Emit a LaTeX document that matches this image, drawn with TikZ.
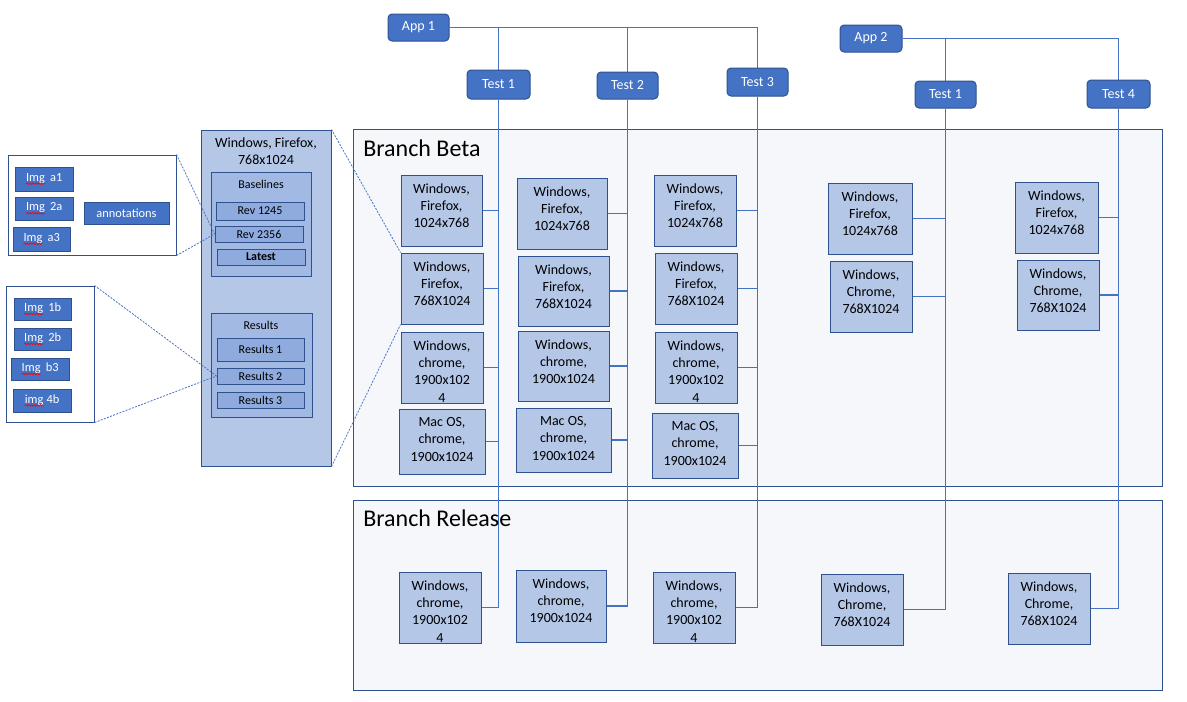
\documentclass[tikz,border=0pt]{standalone}
\usepackage{fontspec}
\setmainfont{Carlito}
\usetikzlibrary{calc,decorations.pathmorphing}
\definecolor{dblue}{HTML}{4472C4}
\definecolor{bord}{HTML}{2F528F}
\definecolor{lblue}{HTML}{B4C7E7}
\definecolor{mblue}{HTML}{A2B9E3}
\definecolor{rblue}{HTML}{8FAADC}
\definecolor{bgfill}{HTML}{F6F7FB}
\definecolor{linec}{HTML}{4472C4}
\pgfdeclarelayer{backlayer}
\pgfdeclarelayer{connlayer}
\pgfsetlayers{backlayer,connlayer,main}
\newcommand\rnode[7]{\node[#1, minimum width={(#5-#3)*0.75pt}, minimum height={(#6-#4)*0.75pt}] (#2) at ({(#3+#5)/2},{(#4+#6)/2}) {#7};}
\newcommand\tbox[6]{\rnode{lbox}{#1}{#2}{#3}{#4}{#5}{}\node[btxt, anchor=north] (#1t) at ([yshift=-6.5pt]#1.north) {#6};}
\newcommand\sqg[1]{\tikz[baseline=(sqw.base)]{\node[draw=none, fill=none, minimum width=0pt, minimum height=0pt, inner sep=0pt, outer sep=0pt, text=white] (sqw) {#1};\draw[red, line width=0.5pt, decorate, decoration={snake, amplitude=0.6pt, segment length=2.2pt}] ([yshift=-1.8pt]sqw.base west) -- ([yshift=-1.8pt]sqw.base east);}}
\tikzset{
  pill/.style={draw=bord, fill=dblue, rounded corners=3pt, text=white, font=\fontsize{10.5}{12}\selectfont, inner sep=0pt, line width=0.75pt},
  lbox/.style={draw=bord, fill=lblue, inner sep=0pt, line width=0.75pt},
  ibox/.style={draw=bord, fill=mblue, inner sep=0pt, line width=0.75pt},
  rbox/.style={draw=bord, fill=rblue, inner sep=0pt, line width=0.75pt, font=\fontsize{9}{10}\selectfont},
  wbox/.style={draw=bord, fill=white, inner sep=0pt, line width=0.75pt},
  imgbox/.style={draw=bord, fill=dblue, text=white, inner sep=0pt, line width=0.75pt, font=\fontsize{9.3}{10}\selectfont},
  btxt/.style={align=center, font=\fontsize{10.5}{13}\selectfont, inner sep=0pt},
  small/.style={font=\fontsize{9}{10}\selectfont, inner sep=0pt},
  branch/.style={draw=bord, fill=bgfill, inner sep=0pt, line width=0.75pt},
  btitle/.style={font=\fontsize{18}{21}\selectfont, inner sep=0pt, anchor=base west},
  conn/.style={draw=linec, line width=0.8pt},
  dashc/.style={draw=linec, line width=0.6pt, dash pattern=on 1.5pt off 1pt},
}
\begin{document}
\begin{tikzpicture}[x=0.75pt, y=-0.75pt]
\useasboundingbox (0,0) rectangle (1187,701);
% branch backgrounds
\begin{pgfonlayer}{backlayer}
\rnode{branch}{beta}{353}{129}{1162}{486}{}
\rnode{branch}{release}{353}{500}{1162}{690}{}
\end{pgfonlayer}
\node[btitle] (betat) at (363,156) {Branch Beta};
\node[btitle] (releaset) at (363,526) {Branch Release};
% apps and tests
\rnode{pill}{app1}{388}{14}{449}{41}{App 1}
\rnode{pill}{t11}{467}{70}{530}{99}{Test 1}
\rnode{pill}{t12}{597}{72}{658}{99}{Test 2}
\rnode{pill}{t13}{727}{68}{788}{96}{Test 3}
\rnode{pill}{app2}{840}{25}{902}{52}{App 2}
\rnode{pill}{t21}{915}{81}{976}{108}{Test 1}
\rnode{pill}{t24}{1087}{80}{1150}{108}{Test 4}
% beta boxes
\tbox{c1a}{401}{175}{482}{246}{Windows,\\Firefox,\\1024x768}
\tbox{c1b}{401}{253}{483}{324}{Windows,\\Firefox,\\768X1024}
\tbox{c1c}{401}{332}{483}{403}{Windows,\\chrome,\\1900x102\\4}
\tbox{c1d}{399}{409}{485}{474}{Mac OS,\\chrome,\\1900x1024}
\tbox{c2a}{517}{178}{607}{249}{Windows,\\Firefox,\\1024x768}
\tbox{c2b}{518}{256}{609}{326}{Windows,\\Firefox,\\768X1024}
\tbox{c2c}{518}{331}{609}{401}{Windows,\\chrome,\\1900x1024}
\tbox{c2d}{516}{408}{611}{472}{Mac OS,\\chrome,\\1900x1024}
\tbox{c3a}{654}{175}{736}{246}{Windows,\\Firefox,\\1024x768}
\tbox{c3b}{655}{253}{737}{324}{Windows,\\Firefox,\\768X1024}
\tbox{c3c}{655}{332}{737}{403}{Windows,\\chrome,\\1900x102\\4}
\tbox{c3d}{652}{413}{738}{478}{Mac OS,\\chrome,\\1900x1024}
\tbox{c4a}{828}{183}{912}{254}{Windows,\\Firefox,\\1024x768}
\tbox{c4b}{830}{261}{912}{332}{Windows,\\Chrome,\\768X1024}
\tbox{c5a}{1015}{182}{1098}{253}{Windows,\\Firefox,\\1024x768}
\tbox{c5b}{1017}{260}{1099}{330}{Windows,\\Chrome,\\768X1024}
% release boxes
\tbox{r1}{399}{572}{481}{643}{Windows,\\chrome,\\1900x102\\4}
\tbox{r2}{516}{570}{606}{642}{Windows,\\chrome,\\1900x1024}
\tbox{r3}{653}{572}{735}{643}{Windows,\\chrome,\\1900x102\\4}
\tbox{r4}{821}{574}{903}{645}{Windows,\\Chrome,\\768X1024}
\tbox{r5}{1008}{573}{1090}{644}{Windows,\\Chrome,\\768X1024}
% connectors
\begin{pgfonlayer}{connlayer}
\draw[conn] (app1.east) -| (t11.north);
\draw[conn] (app1.east) -| (t12.north);
\draw[conn] (app1.east) -| (t13.north);
\draw[conn] (app2.east) -| (t21.north);
\draw[conn] (app2.east) -| (t24.north);
\foreach \b in {c1a,c1b,c1c,c1d,r1} \draw[conn] (t11.south) |- (\b.east);
\foreach \b in {c2a,c2b,c2c,c2d,r2} \draw[conn] (t12.south) |- (\b.east);
\foreach \b in {c3a,c3b,c3c,c3d,r3} \draw[conn] (t13.south) |- (\b.east);
\foreach \b in {c4a,c4b,r4} \draw[conn] (t21.south) |- (\b.east);
\foreach \b in {c5a,c5b,r5} \draw[conn] (t24.south) |- (\b.east);
\end{pgfonlayer}
% left panel
\rnode{lbox}{panel}{201}{130}{331}{466}{}
\node[btxt, anchor=north] (panelt) at ([yshift=-6pt]panel.north) {Windows, Firefox,\\768x1024};
\rnode{ibox}{bl}{211}{172}{311}{276}{}
\node[small] (blt) at (261,184) {Baselines};
\rnode{rbox}{rev1}{216}{202}{304}{220}{Rev 1245}
\rnode{rbox}{rev2}{215}{226}{303}{242}{Rev 2356}
\rnode{rbox}{latest}{217}{249}{305}{265}{\textbf{Latest}}
\rnode{ibox}{res}{211}{313}{312}{417}{}
\node[small] (rest) at (261,325) {Results};
\rnode{rbox}{res1}{217}{338}{304}{361}{Results 1}
\rnode{rbox}{res2}{217}{368}{304}{384}{Results 2}
\rnode{rbox}{res3}{217}{392}{304}{408}{Results 3}
% image boxes
\rnode{wbox}{boxa}{8}{155}{176}{255}{}
\rnode{imgbox}{a1}{15}{167}{73}{191}{\sqg{Img}\, a1}
\rnode{imgbox}{a2}{15}{197}{73}{220}{\sqg{Img}\, 2a}
\rnode{imgbox}{a3}{13}{227}{70}{251}{\sqg{Img}\, a3}
\rnode{imgbox}{ann}{84}{202}{169}{224}{annotations}
\rnode{wbox}{boxb}{6}{286}{94}{422}{}
\rnode{imgbox}{b1}{14}{298}{71}{320}{\sqg{Img}\, 1b}
\rnode{imgbox}{b2}{14}{328}{71}{350}{\sqg{Img}\, 2b}
\rnode{imgbox}{b3}{11}{358}{69}{380}{\sqg{Img}\, b3}
\rnode{imgbox}{b4}{13}{389}{71}{412}{\sqg{img} 4b}
% dashed callouts
\draw[dashc] (boxa.north east) -- (rev2.west);
\draw[dashc] (boxa.south east) -- (rev2.west);
\draw[dashc] (boxb.north east) -- (res2.west);
\draw[dashc] (boxb.south east) -- (res2.west);
\draw[dashc] (panel.north east) -- (c1b.north west);
\draw[dashc] (panel.south east) -- (c1b.south west);
\end{tikzpicture}
\end{document}
